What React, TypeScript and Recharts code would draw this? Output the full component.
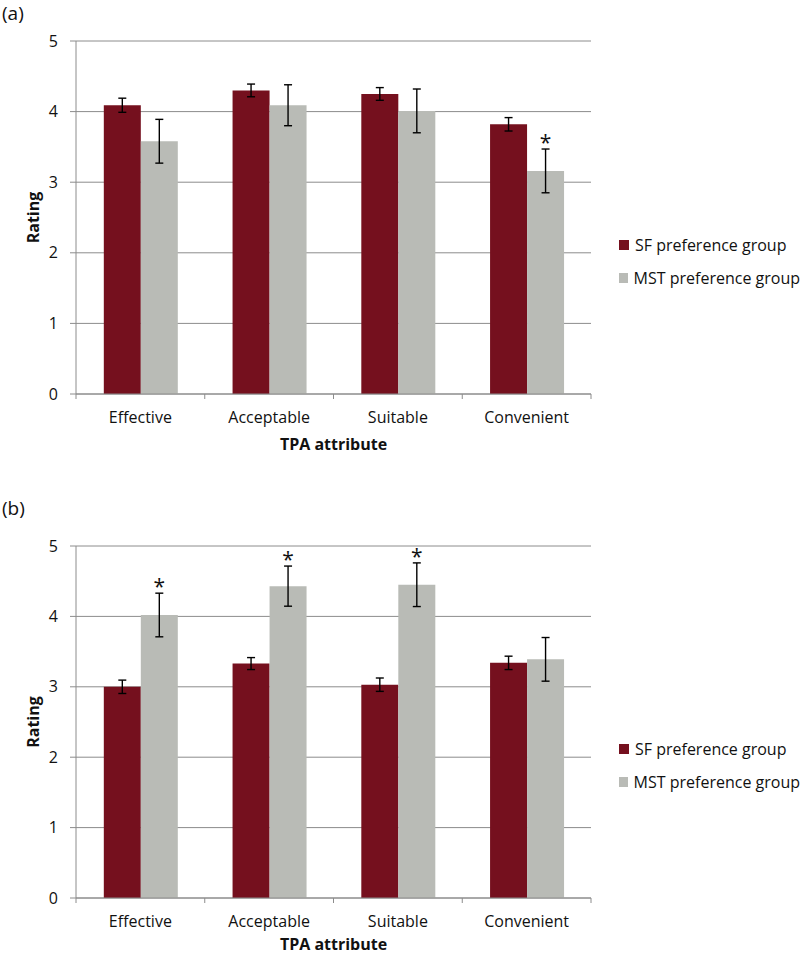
import { BarChart, Bar, XAxis, YAxis, CartesianGrid, ErrorBar, LabelList, Legend } from "recharts";

const categories = ["Effective", "Acceptable", "Suitable", "Convenient"];
const yTicks = [0, 1, 2, 3, 4, 5];

// panel (a)
const sfA = [4.09, 4.3, 4.25, 3.82];
const sfAErr = [0.1, 0.09, 0.09, 0.095];
const mstA = [3.58, 4.09, 4.01, 3.16];
const mstAErr = [0.31, 0.29, 0.31, 0.31];
const sigA = [false, false, false, true];

// panel (b)
const sfB = [3.0, 3.33, 3.03, 3.34];
const sfBErr = [0.095, 0.085, 0.095, 0.095];
const mstB = [4.02, 4.43, 4.45, 3.39];
const mstBErr = [0.31, 0.285, 0.31, 0.31];
const sigB = [true, true, true, false];

const SF_COLOR = "#75101e";
const MST_COLOR = "#b9bbb6";
const GRID = "#8c8c8c";
const FONT = "'Open Sans', sans-serif";

const CHART_W = 800;
const CHART_H = 460;
const PLOT_LEFT = 76;
const PLOT_RIGHT = 591;
const BAND = (PLOT_RIGHT - PLOT_LEFT) / categories.length;

function CategoryTick(props: any) {
  const { x, y, payload, index } = props;
  return (
    <g>
      <line x1={x - BAND / 2} x2={x - BAND / 2} y1={y} y2={y + 5} stroke={GRID} />
      {index === categories.length - 1 && (
        <line x1={x + BAND / 2} x2={x + BAND / 2} y1={y} y2={y + 5} stroke={GRID} />
      )}
      <text x={x} y={y + 29} textAnchor="middle" fontSize={16} fill="#111" fontFamily={FONT}>
        {payload.value}
      </text>
    </g>
  );
}

function LegendBox() {
  const items = [
    { label: "SF preference group", color: SF_COLOR },
    { label: "MST preference group", color: MST_COLOR },
  ];
  return (
    <div style={{ fontFamily: FONT, fontSize: 16, color: "#111" }}>
      {items.map((it) => (
        <div key={it.label} style={{ display: "flex", alignItems: "center", height: 33, whiteSpace: "nowrap" }}>
          <span style={{ display: "inline-block", width: 10, height: 10, background: it.color, marginRight: 6 }} />
          {it.label}
        </div>
      ))}
    </div>
  );
}

function Panel({
  letter,
  top,
  plotTop,
  plotBottom,
  legendTop,
  titleOffset,
  sf,
  sfErr,
  mst,
  mstErr,
  sig,
}: {
  letter: string;
  top: number;
  plotTop: number;
  plotBottom: number;
  legendTop: number;
  titleOffset: number;
  sf: number[];
  sfErr: number[];
  mst: number[];
  mstErr: number[];
  sig: boolean[];
}) {
  const data = categories.map((c, i) => ({
    name: c,
    sf: sf[i],
    sfErr: sfErr[i],
    mst: mst[i],
    mstErr: mstErr[i],
  }));

  const star = (p: any) => {
    const { x, y, width, height, value, index } = p;
    if (!sig[index]) return null;
    const errTop = y - mstErr[index] * (height / value);
    return (
      <text x={x + width / 2} y={errTop + 1} textAnchor="middle" fontSize={21} fontFamily={FONT} fill="#111">
        *
      </text>
    );
  };

  return (
    <div style={{ position: "absolute", left: 0, top, width: CHART_W, height: CHART_H }}>
      <div style={{ position: "absolute", left: 2, top: 1, fontFamily: FONT, fontSize: 19, color: "#111", lineHeight: "24px" }}>
        ({letter})
      </div>
      <BarChart
        width={CHART_W}
        height={CHART_H}
        data={data}
        margin={{ top: plotTop, right: CHART_W - PLOT_RIGHT, bottom: 0, left: 0 }}
        barCategoryGap="21.6%"
        barGap={0}
      >
        <CartesianGrid vertical={false} stroke={GRID} />
        <XAxis
          dataKey="name"
          height={CHART_H - plotBottom}
          axisLine={{ stroke: GRID }}
          tickLine={false}
          tickSize={0}
          tickMargin={0}
          tick={<CategoryTick />}
          interval={0}
          label={{
            value: "TPA attribute",
            position: "insideTop",
            offset: titleOffset,
            fontSize: 16,
            fontWeight: "bold",
            fontFamily: FONT,
            fill: "#111",
          }}
        />
        <YAxis
          width={PLOT_LEFT}
          domain={[0, 5]}
          ticks={yTicks}
          axisLine={{ stroke: GRID }}
          tickLine={{ stroke: GRID }}
          tickSize={6}
          tickMargin={12}
          tick={{ fontSize: 16, fill: "#111", fontFamily: FONT }}
          label={{
            value: "Rating",
            angle: -90,
            position: "insideLeft",
            offset: 33,
            fontSize: 16,
            fontWeight: "bold",
            fontFamily: FONT,
            fill: "#111",
            style: { textAnchor: "middle" },
          }}
        />
        <Legend
          layout="horizontal"
          align="center"
          verticalAlign="middle"
          content={() => <LegendBox />}
          wrapperStyle={{ left: 619, top: legendTop, width: 181 }}
        />
        <Bar dataKey="sf" name="SF preference group" fill={SF_COLOR} isAnimationActive={false}>
          <ErrorBar dataKey="sfErr" width={4} stroke="#000" strokeWidth={1.4} />
        </Bar>
        <Bar dataKey="mst" name="MST preference group" fill={MST_COLOR} isAnimationActive={false}>
          <ErrorBar dataKey="mstErr" width={4} stroke="#000" strokeWidth={1.4} />
          <LabelList dataKey="mst" content={star} />
        </Bar>
      </BarChart>
    </div>
  );
}

export default function App() {
  return (
    <div style={{ position: "absolute", left: 0, top: 0, width: 800, height: 955, background: "#fff", overflow: "hidden" }}>
      <Panel letter="a" top={0} plotTop={41} plotBottom={394} legendTop={228} titleOffset={45} sf={sfA} sfErr={sfAErr} mst={mstA} mstErr={mstAErr} sig={sigA} />
      <Panel letter="b" top={495} plotTop={51} plotBottom={403} legendTop={237} titleOffset={41} sf={sfB} sfErr={sfBErr} mst={mstB} mstErr={mstBErr} sig={sigB} />
    </div>
  );
}
